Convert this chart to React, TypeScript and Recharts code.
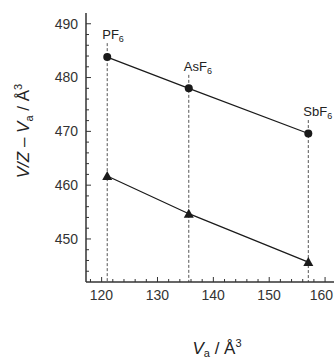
import { ComposedChart, Line, XAxis, YAxis, ReferenceLine, ReferenceDot } from "recharts";

// anion volumes V_a (Å^3) and the two series
const anions = ["PF", "AsF", "SbF"];
const va = [121.0, 135.6, 157.0];
const circleVals = [483.8, 478.0, 469.6];
const triangleVals = [461.7, 454.7, 445.7];
// where each dashed guide starts (top end, in y units)
const guideTop = [486.4, 480.5, 472.1];

const xTicks = [118, 120, 122, 124, 126, 128, 130, 132, 134, 136, 138, 140, 142, 144, 146, 148, 150, 152, 154, 156, 158, 160];
const xLabels = [120, 130, 140, 150, 160];
const yTicks = [444, 446, 448, 450, 452, 454, 456, 458, 460, 462, 464, 466, 468, 470, 472, 474, 476, 478, 480, 482, 484, 486, 488, 490];
const yLabels = [450, 460, 470, 480, 490];

const data = va.map((x, i) => ({ x, circle: circleVals[i], triangle: triangleVals[i] }));

const font = "'Liberation Sans', Arial, sans-serif";
const ink = "#1a1a1a";
const axisColor = "#333";

function XTick({ x, y, payload }: any) {
  const major = xLabels.includes(payload.value);
  // keep the last label inside the cropped right edge
  const right = Math.min(x + 11.5, 333);
  return (
    <g>
      <line x1={x} x2={x} y1={y} y2={y - (major ? 5 : 3)} stroke={axisColor} strokeWidth={1} />
      {major && (
        <text x={right} y={y + 18} textAnchor="end" fontSize={14} fill="#333" fontFamily={font}>
          {payload.value}
        </text>
      )}
    </g>
  );
}

function YTick({ x, y, payload }: any) {
  const major = yLabels.includes(payload.value);
  return (
    <g>
      <line x1={x} x2={x + (major ? 5 : 3)} y1={y} y2={y} stroke={axisColor} strokeWidth={1} />
      {major && (
        <text x={x - 8} y={y} dy="0.35em" textAnchor="end" fontSize={14} fill="#333" fontFamily={font}>
          {payload.value}
        </text>
      )}
    </g>
  );
}

function Triangle({ cx, cy }: any) {
  if (cx == null || cy == null) return null;
  return <polygon points={`${cx},${cy - 5} ${cx - 5},${cy + 4} ${cx + 5},${cy + 4}`} fill={ink} />;
}

function anionLabel(name: string) {
  return (props: any) => {
    const vb = props.viewBox || {};
    const x = vb.x + (vb.width || 0) / 2;
    const y = vb.y + (vb.height || 0) / 2;
    return (
      <text x={x - 5} y={y - 4} fontSize={13} fill="#222" fontFamily={font}>
        {name}
        <tspan fontSize={9} dy={3}>6</tspan>
      </text>
    );
  };
}

function YTitle(props: any) {
  const vb = props.viewBox;
  const cx = vb.x + 23;
  const cy = vb.y + 118;
  return (
    <text x={cx} y={cy} transform={`rotate(-90 ${cx} ${cy})`} textAnchor="middle" fontSize={17} fill="#222" fontFamily={font} dy="0.35em">
      <tspan fontStyle="italic">V/Z</tspan>
      <tspan> – </tspan>
      <tspan fontStyle="italic">V</tspan>
      <tspan fontSize={11} dy={4}>a</tspan>
      <tspan dy={-4}> / Å</tspan>
      <tspan fontSize={11} dy={-7}>3</tspan>
    </text>
  );
}

function XTitle(props: any) {
  const vb = props.viewBox;
  return (
    <text x={vb.x + 131} y={vb.y + 72} textAnchor="middle" fontSize={17} fill="#222" fontFamily={font}>
      <tspan fontStyle="italic">V</tspan>
      <tspan fontSize={11} dy={3}>a</tspan>
      <tspan dy={-3}> / Å</tspan>
      <tspan fontSize={11} dy={-7}>3</tspan>
    </text>
  );
}

export default function App() {
  return (
    <div style={{ position: "fixed", left: 0, top: 0, width: 334, height: 360, overflow: "hidden", background: "#fff" }}>
      <ComposedChart width={334} height={360} data={data} margin={{ top: 13, right: 0, bottom: 0, left: 0 }}>
        <XAxis
          dataKey="x"
          type="number"
          domain={[117.2, 161.6]}
          allowDataOverflow
          ticks={xTicks}
          interval={0}
          height={78}
          tickSize={0}
          tickMargin={0}
          tick={<XTick />}
          axisLine={{ stroke: axisColor, strokeWidth: 1.5 }}
          tickLine={false}
          label={<XTitle />}
        />
        <XAxis xAxisId="top" orientation="top" height={0} tick={false} tickLine={false} axisLine={{ stroke: "#666", strokeWidth: 1.5 }} />
        <YAxis
          type="number"
          domain={[442, 492]}
          allowDataOverflow
          ticks={yTicks}
          interval={0}
          width={86}
          tickSize={0}
          tickMargin={0}
          tick={<YTick />}
          axisLine={{ stroke: axisColor, strokeWidth: 1.5 }}
          tickLine={false}
          label={<YTitle />}
        />
        {va.map((x, i) => (
          <ReferenceLine
            key={`g-${i}`}
            segment={[{ x, y: guideTop[i] }, { x, y: 442 }]}
            stroke="#555"
            strokeDasharray="3 2"
            strokeWidth={1}
          />
        ))}
        {va.map((x, i) => (
          <ReferenceDot key={`l-${i}`} x={x} y={guideTop[i]} r={0} stroke="none" fill="none" label={anionLabel(anions[i])} />
        ))}
        <Line
          dataKey="circle"
          stroke={ink}
          strokeWidth={1.2}
          dot={{ r: 4, fill: ink, stroke: ink, strokeWidth: 0 }}
          activeDot={false}
          isAnimationActive={false}
        />
        <Line
          dataKey="triangle"
          stroke={ink}
          strokeWidth={1.2}
          dot={<Triangle />}
          activeDot={false}
          isAnimationActive={false}
        />
      </ComposedChart>
    </div>
  );
}
